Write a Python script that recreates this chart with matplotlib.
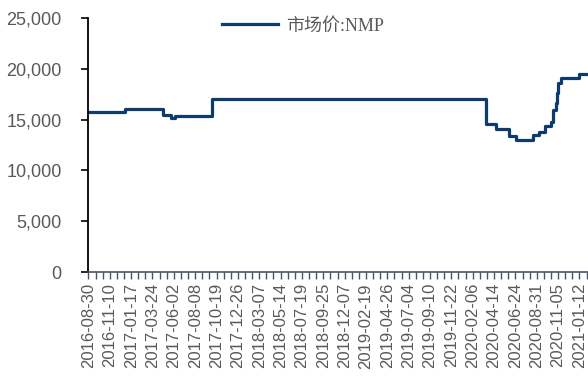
import matplotlib
matplotlib.use("Agg")
import matplotlib.pyplot as plt
import numpy as np
import pandas as pd
from matplotlib.ticker import FuncFormatter, MultipleLocator

# ---- data ----
tick_labels = ["2016-08-30", "2016-11-10", "2017-01-17", "2017-03-24", "2017-06-02",
               "2017-08-08", "2017-10-19", "2017-12-26", "2018-03-07", "2018-05-14",
               "2018-07-19", "2018-09-25", "2018-12-07", "2019-02-19", "2019-04-26",
               "2019-07-04", "2019-09-10", "2019-11-22", "2020-02-06", "2020-04-14",
               "2020-06-24", "2020-08-31", "2020-11-05", "2021-01-12"]

# price change points (date the new level starts) and levels
change_dates = ["2016-08-30", "2016-12-30", "2017-04-26", "2017-05-23", "2017-06-07",
                "2017-10-05", "2020-03-18", "2020-04-22", "2020-06-01", "2020-06-25",
                "2020-08-20", "2020-09-08", "2020-09-24", "2020-10-13", "2020-10-21",
                "2020-10-29", "2020-11-02", "2020-11-06", "2020-11-14", "2021-01-10"]
prices = [15750, 16000, 15500, 15200, 15400,
          17000, 14570, 14050, 13350, 13000,
          13500, 13800, 14370, 14800, 15950,
          16600, 17600, 18600, 19050, 19500]
last_date = "2021-02-10"
series_name = "市场价:NMP"

# ---- scale: date -> categorical position (labels evenly spaced) ----
lab_ord = pd.to_datetime(tick_labels).map(pd.Timestamp.toordinal).to_numpy(dtype=float)
lab_idx = np.arange(len(tick_labels), dtype=float)

def pos(dates):
    o = pd.to_datetime(dates).map(pd.Timestamp.toordinal).to_numpy(dtype=float)
    p = np.interp(o, lab_ord, lab_idx)
    slope = 1.0 / (lab_ord[-1] - lab_ord[-2])
    p = np.where(o > lab_ord[-1], lab_idx[-1] + (o - lab_ord[-1]) * slope, p)
    return p

xs = np.append(pos(change_dates), pos([last_date]))
ys = np.append(prices, prices[-1])

# ---- figure ----
fig = plt.figure(figsize=(5.88, 3.78), dpi=100)
ax = fig.add_axes([0.1497, 0.2804, 0.8503, 0.672])

line_color = "#0D3B6E"
ax.step(xs, ys, where="post", color=line_color, lw=2.3, label=series_name,
        solid_joinstyle="round")

ax.set_ylim(0, 25000)
ax.set_xlim(-0.02, 23.4)
ax.yaxis.set_major_locator(MultipleLocator(5000))
ax.yaxis.set_major_formatter(FuncFormatter(lambda v, p: f"{int(v):,}"))

ax.set_xticks(lab_idx)
ax.set_xticklabels(tick_labels, rotation=90, fontsize=12, color="#595959",
                   family=["Liberation Sans"])
ax.xaxis.set_minor_locator(MultipleLocator(1 / 3))
ax.tick_params(axis="x", which="both", direction="out", length=5, width=1,
               color="#44546A", pad=3)
ax.tick_params(axis="y", which="major", direction="out", length=5, width=1.2,
               color="black", labelsize=13, labelcolor="#595959", pad=14)
for t in ax.get_yticklabels():
    t.set_family("Liberation Sans")

for s in ["top", "right"]:
    ax.spines[s].set_visible(False)
ax.spines["left"].set_color("black")
ax.spines["left"].set_linewidth(1.3)
ax.spines["bottom"].set_color("#44546A")
ax.spines["bottom"].set_linewidth(1.2)

leg = ax.legend(loc="upper center", bbox_to_anchor=(0.43, 1.065), frameon=False,
                handlelength=3.1, handletextpad=0.4,
                prop={"family": ["Liberation Serif", "Noto Sans CJK SC"], "size": 13})
for t in leg.get_texts():
    t.set_color("#595959")

fig.savefig("out.png", dpi=100)
